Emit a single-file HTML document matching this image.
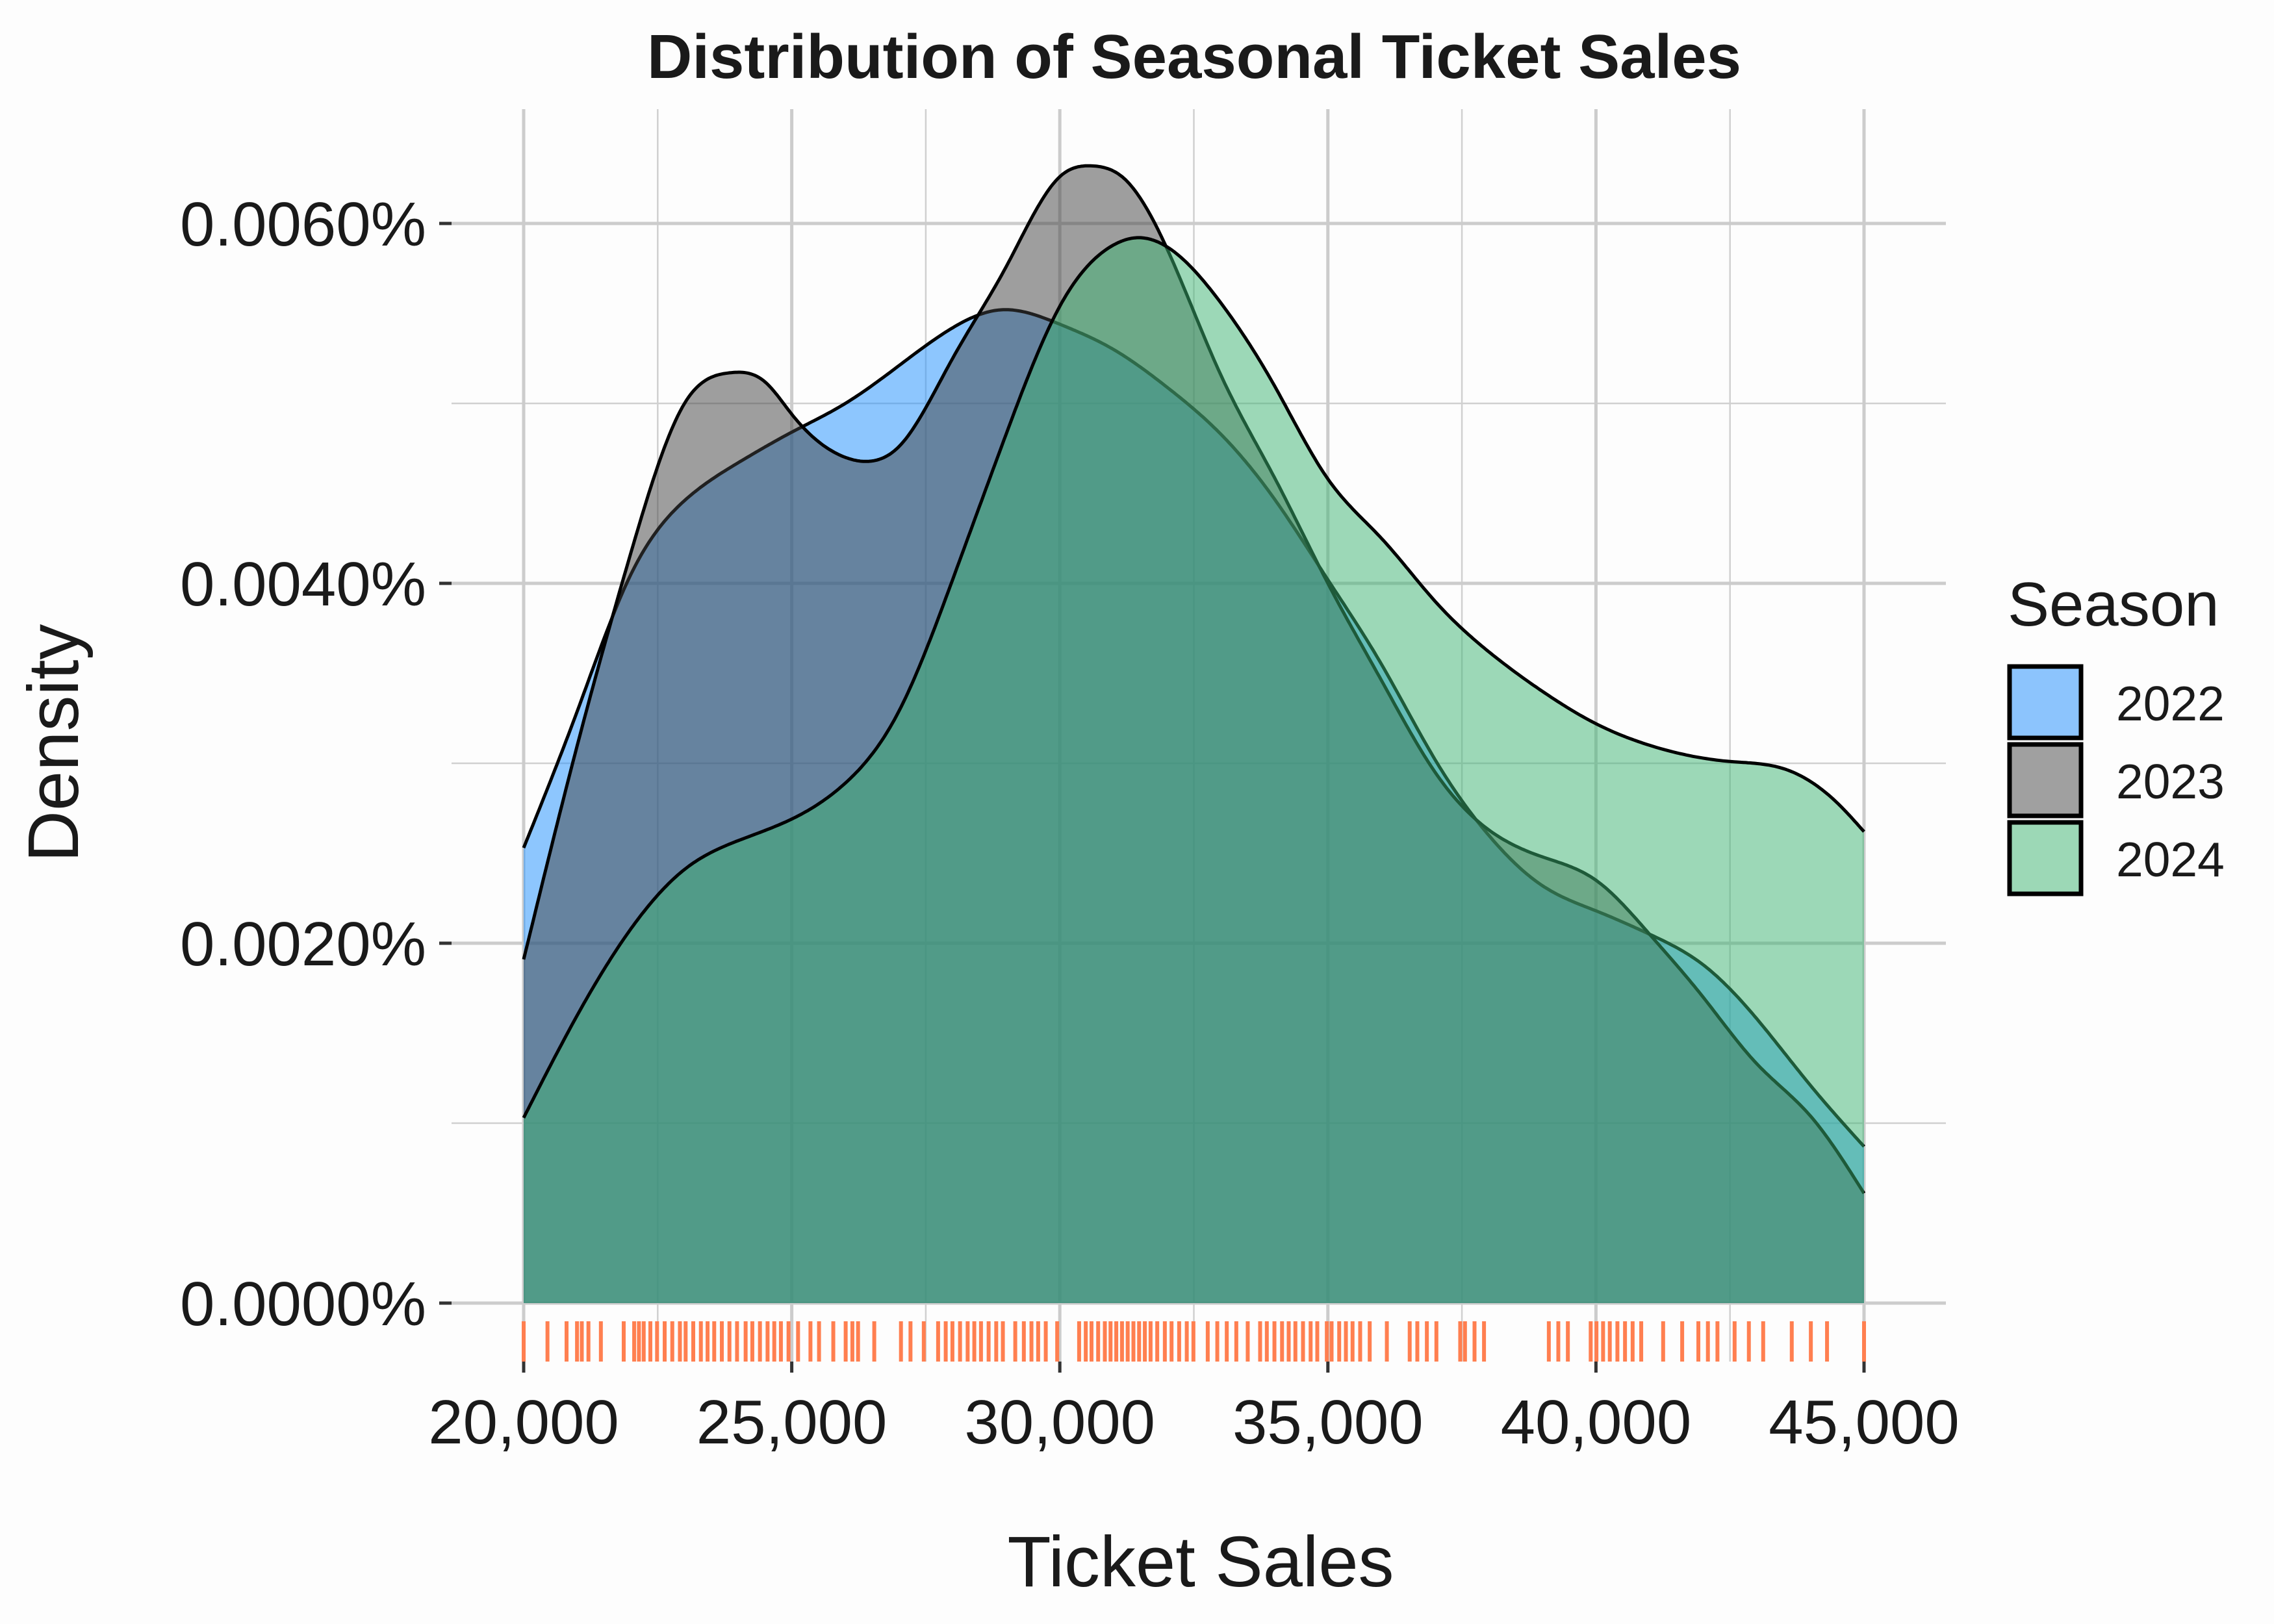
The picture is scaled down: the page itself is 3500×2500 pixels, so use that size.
<!DOCTYPE html>
<html><head><meta charset="utf-8"><style>
html,body{margin:0;padding:0;background:#fdfdfd;}
svg{display:block;}
text{font-family:"Liberation Sans",Arial,sans-serif;fill:#1a1a1a;}
</style></head><body>
<svg id="chart" width="3500" height="2500" viewBox="0 0 3500 2500" xmlns="http://www.w3.org/2000/svg">
<rect x="0" y="0" width="3500" height="2500" fill="#fdfdfd"/>
<g id="grid"></g>
<g id="areas"></g>
<g id="rug"></g>
<g id="axes"></g>
<text x="1838" y="120" text-anchor="middle" font-size="96" font-weight="bold">Distribution of Seasonal Ticket Sales</text>
<text x="1848" y="2442" text-anchor="middle" font-size="110">Ticket Sales</text>
<text x="0" y="0" transform="translate(120,1144) rotate(-90)" text-anchor="middle" font-size="110">Density</text>
<g id="legend">
<text x="3090" y="963" font-size="96">Season</text>
</g>
</svg>
<script>
const xTicks = [20000, 25000, 30000, 35000, 40000, 45000];
const xTickLabels = ["20,000", "25,000", "30,000", "35,000", "40,000", "45,000"];
const yTicks = [0, 0.002, 0.004, 0.006];
const yTickLabels = ["0.0000%", "0.0020%", "0.0040%", "0.0060%"];
const seasons = ["2022", "2023", "2024"];

const x2022 = [20000,21000,22000,23000,24000,25000,26000,27000,28000,28900,30000,31000,32000,33000,34000,35000,36000,37000,38000,39000,40000,41000,42000,43000,44000,45000];
const d2022 = [0.00253,0.00329,0.00405,0.00446,0.00467,0.00484,0.00500,0.00521,0.00542,0.00552,0.00544,0.00530,0.00509,0.00483,0.00447,0.00402,0.00355,0.00302,0.00260,0.00232,0.00218,0.00205,0.00188,0.00158,0.00121,0.00087];

const x2023 = [20000,21000,22000,23000,23840,24500,25000,26000,26500,27000,28000,29000,30000,30600,31200,32000,33000,34000,35000,36000,37000,38000,39000,40000,41000,42000,43000,44000,45000];
const d2023 = [0.00191,0.00310,0.00417,0.00500,0.00517,0.00512,0.00494,0.00470,0.00468,0.00476,0.00525,0.00576,0.00626,0.00632,0.00625,0.00586,0.00516,0.00459,0.00400,0.00346,0.00295,0.00263,0.00248,0.00235,0.00205,0.00170,0.00133,0.00104,0.00061];

const x2024 = [20000,21000,22000,23000,24000,25000,26000,27000,28000,29000,30000,31000,31400,32000,33000,34000,35000,36000,37000,38000,39000,40000,41000,42500,43500,44500,45000];
const d2024 = [0.00103,0.00160,0.00208,0.00241,0.00257,0.00269,0.00289,0.00329,0.00402,0.00483,0.00554,0.00588,0.00592,0.00587,0.00556,0.00510,0.00458,0.00425,0.00390,0.00362,0.00340,0.00322,0.00310,0.00301,0.00297,0.00278,0.00262];

const rugValues = [20000,20444,20800,20995,21084,21208,21440,21866,22061,22150,22239,22363,22488,22630,22772,22914,23021,23163,23305,23430,23554,23696,23838,23980,24140,24265,24407,24549,24674,24798,24940,25118,25349,25509,25775,26006,26131,26237,26539,27037,27215,27463,27730,27872,27997,28139,28281,28405,28530,28672,28814,28938,29169,29329,29471,29596,29738,29951,30360,30484,30591,30715,30840,30946,31053,31160,31266,31373,31479,31586,31693,31817,31959,32084,32226,32368,32492,32759,32937,33114,33292,33505,33736,33861,34003,34145,34269,34394,34536,34678,34802,34980,35069,35211,35336,35460,35602,35780,36100,36526,36668,36846,37024,37468,37557,37735,37912,39121,39298,39476,39902,40009,40133,40258,40400,40542,40684,40844,41253,41608,41910,42088,42266,42586,42852,43119,43652,44008,44310,45000];

const NS = "http://www.w3.org/2000/svg";
const PX0 = 695, PX1 = 2995, PY0 = 168, PY1 = 2096;
function xs(v){ return 806 + (v - 20000) / 25000 * 2063; }
function ys(d){ return 2006 - d / 0.002 * 554; }
function mk(tag, attrs, parent){ const e = document.createElementNS(NS, tag); for (const k in attrs) e.setAttribute(k, attrs[k]); parent.appendChild(e); return e; }

const grid = document.getElementById('grid');
for (let v = 22500; v <= 45000; v += 5000) {
  const l = mk('line', {x1: xs(v), x2: xs(v), y1: PY0, y2: PY1, stroke: '#d0d0d0', 'stroke-width': 2.5}, grid);
  
  
}
for (const d of [0.001, 0.003, 0.005]) {
  const l = mk('line', {x1: PX0, x2: PX1, y1: ys(d), y2: ys(d), stroke: '#d0d0d0', 'stroke-width': 2.5}, grid);
  
  
}
xTicks.forEach(v => {
  const l = mk('line', {x1: xs(v), x2: xs(v), y1: PY0, y2: PY1, stroke: '#cccccc', 'stroke-width': 5}, grid);
  
  
});
yTicks.forEach(d => {
  const l = mk('line', {x1: PX0, x2: PX1, y1: ys(d), y2: ys(d), stroke: '#cccccc', 'stroke-width': 5}, grid);
  
  
});

// natural cubic spline through (x, d) points, sampled densely
function splinePts(X, Y){
  const n = X.length, h = [], a = [], b = [], c = [], r = [], M = new Array(n).fill(0);
  for (let i = 0; i < n - 1; i++) h.push(X[i + 1] - X[i]);
  for (let i = 1; i < n - 1; i++) {
    a.push(h[i - 1]); b.push(2 * (h[i - 1] + h[i])); c.push(h[i]);
    r.push(6 * ((Y[i + 1] - Y[i]) / h[i] - (Y[i] - Y[i - 1]) / h[i - 1]));
  }
  const m = b.length;
  for (let i = 1; i < m; i++) { const w = a[i] / b[i - 1]; b[i] -= w * c[i - 1]; r[i] -= w * r[i - 1]; }
  const sol = new Array(m);
  for (let i = m - 1; i >= 0; i--) sol[i] = (r[i] - (i < m - 1 ? c[i] * sol[i + 1] : 0)) / b[i];
  for (let i = 0; i < m; i++) M[i + 1] = sol[i];
  const out = [];
  for (let i = 0; i < n - 1; i++) {
    const steps = 24;
    for (let s = 0; s < steps; s++) {
      const t = X[i] + h[i] * s / steps;
      const A = (X[i + 1] - t) / h[i], B = (t - X[i]) / h[i];
      const y = A * Y[i] + B * Y[i + 1] + ((A * A * A - A) * M[i] + (B * B * B - B) * M[i + 1]) * h[i] * h[i] / 6;
      out.push([xs(t), ys(y)]);
    }
  }
  out.push([xs(X[n - 1]), ys(Y[n - 1])]);
  return out;
}
const areas = document.getElementById('areas');
const series = [[x2022, d2022, 'rgb(30,144,255)'], [x2023, d2023, 'rgb(64,64,64)'], [x2024, d2024, 'rgb(60,179,113)']];
series.forEach((s, i) => {
  const pts = splinePts(s[0], s[1]);
  const top = 'M' + pts.map(p => p[0].toFixed(1) + ',' + p[1].toFixed(1)).join(' L');
  const xa = xs(s[0][0]), xb = xs(s[0][s[0].length - 1]), yb = ys(0);
  const a = mk('path', {d: top + ' L' + xb + ',' + yb + ' L' + xa + ',' + yb + ' Z', fill: s[2], 'fill-opacity': 0.5}, areas);
  
  
  const ln = mk('path', {d: top, fill: 'none', stroke: '#000', 'stroke-width': 5, 'stroke-linejoin': 'round'}, areas);
  
  
});

const rug = document.getElementById('rug');
rugValues.forEach(v => {
  const l = mk('line', {x1: xs(v), x2: xs(v), y1: 2034, y2: 2096, stroke: '#ff7f50', 'stroke-width': 6}, rug);
  
  
});

const axes = document.getElementById('axes');
xTicks.forEach((v, i) => {
  const t = mk('line', {x1: xs(v), x2: xs(v), y1: 2096, y2: 2113, stroke: '#333', 'stroke-width': 5}, axes);
  
  
  const tx = mk('text', {x: xs(v), y: 2222, 'text-anchor': 'middle', 'font-size': 96}, axes);
  tx.textContent = xTickLabels[i];
  
  
});
yTicks.forEach((d, i) => {
  const t = mk('line', {x1: 676, x2: 695, y1: ys(d), y2: ys(d), stroke: '#333', 'stroke-width': 5}, axes);
  
  
  const tx = mk('text', {x: 656, y: ys(d) + 34, 'text-anchor': 'end', 'font-size': 96}, axes);
  tx.textContent = yTickLabels[i];
  
  
});

const legend = document.getElementById('legend');
const legendFill = ['#8cc4fd', '#a0a0a0', '#9cd8b6'];
seasons.forEach((s, i) => {
  const y0 = 1023 + i * 120;
  const r = mk('rect', {x: 3093, y: y0 + 3, width: 110, height: 110, fill: legendFill[i], stroke: '#000', 'stroke-width': 7}, legend);
  
  
  const t = mk('text', {x: 3257, y: y0 + 86, 'font-size': 75}, legend);
  t.textContent = s;
  
  
});
</script>
</body></html>
